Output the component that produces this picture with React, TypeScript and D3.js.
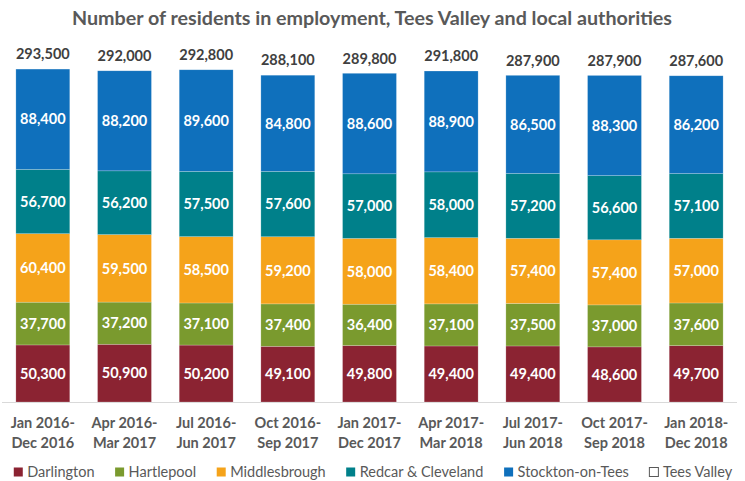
import React from "react";
import * as d3 from "d3";

const categories = [
  "Jan 2016-|Dec 2016",
  "Apr 2016-|Mar 2017",
  "Jul 2016-|Jun 2017",
  "Oct 2016-|Sep 2017",
  "Jan 2017-|Dec 2017",
  "Apr 2017-|Mar 2018",
  "Jul 2017-|Jun 2018",
  "Oct 2017-|Sep 2018",
  "Jan 2018-|Dec 2018",
];
const seriesNames = ["Darlington", "Hartlepool", "Middlesbrough", "Redcar & Cleveland", "Stockton-on-Tees"];
const darlington = [50300, 50900, 50200, 49100, 49800, 49400, 49400, 48600, 49700];
const hartlepool = [37700, 37200, 37100, 37400, 36400, 37100, 37500, 37000, 37600];
const middlesbrough = [60400, 59500, 58500, 59200, 58000, 58400, 57400, 57400, 57000];
const redcar = [56700, 56200, 57500, 57600, 57000, 58000, 57200, 56600, 57100];
const stockton = [88400, 88200, 89600, 84800, 88600, 88900, 86500, 88300, 86200];
const teesValley = [293500, 292000, 292800, 288100, 289800, 291800, 287900, 287900, 287600];
const colors = ["#8B2332", "#7A9A2E", "#F5A31A", "#00808A", "#0F70BC"];

const W = 745;
const H = 481;
const FONT = "Lato, 'Open Sans', sans-serif";

function measure(text: string, font: string) {
  const c = document.createElement("canvas").getContext("2d")!;
  c.font = font;
  return c.measureText(text).width;
}

export default function App() {
  const seriesValues = [darlington, hartlepool, middlesbrough, redcar, stockton];
  const x = d3.scaleBand<string>().domain(categories).range([2, 737]).paddingInner(0.34).paddingOuter(0.17);
  const y = d3.scaleLinear().domain([0, 350000]).range([402, 5]);

  const rows = categories.map((c, i) => {
    const o: any = { cat: c };
    seriesNames.forEach((s, k) => (o[s] = seriesValues[k][i]));
    return o;
  });
  const stack = d3.stack<any>().keys(seriesNames)(rows);

  const legendItems = [...seriesNames, "Tees Valley"];
  const legendFont = `14.5px ${FONT}`;
  const widths = legendItems.map((t) => measure(t, legendFont));
  const marker = 10, mgap = 4, igap = 20;
  const total = widths.reduce((a, w) => a + marker + mgap + w, 0) + igap * (legendItems.length - 1);
  let lx = (13 + 733) / 2 - total / 2;
  const legendPos = widths.map((w) => {
    const p = lx;
    lx += marker + mgap + w + igap;
    return p;
  });

  return (
    <svg width={W} height={H} style={{ position: "absolute", left: 0, top: 0, fontFamily: FONT }}>
      <rect width={W} height={H} fill="#fff" />
      <text x={372} y={25} textAnchor="middle" fontSize={19.7} fontWeight="bold" fill="#595959">
        Number of residents in employment, Tees Valley and local authorities
      </text>
      <line x1={2} x2={737} y1={y(0) + 0.5} y2={y(0) + 0.5} stroke="#d9d9d9" strokeWidth={1} />
      {stack.map((layer, k) => (
        <g key={k}>
          {layer.map((d, i) => (
            <g key={i}>
              <rect
                x={x(categories[i])}
                width={x.bandwidth()}
                y={y(d[1])}
                height={y(d[0]) - y(d[1])}
                fill={colors[k]}
                stroke="#ffffff"
                strokeOpacity={0.35}
                strokeWidth={0.6}
              />
              <text
                x={x(categories[i])! + x.bandwidth() / 2}
                y={(y(d[0]) + y(d[1])) / 2}
                dy="0.36em"
                textAnchor="middle"
                fontSize={14.5}
                fontWeight="bold"
                fill="#ffffff"
              >
                {d3.format(",")(seriesValues[k][i])}
              </text>
            </g>
          ))}
        </g>
      ))}
      {teesValley.map((v, i) => (
        <text
          key={i}
          x={x(categories[i])! + x.bandwidth() / 2}
          y={y(v) - 15}
          dy="0.36em"
          textAnchor="middle"
          fontSize={14.5}
          fontWeight="bold"
          fill="#404040"
        >
          {d3.format(",")(v)}
        </text>
      ))}
      {categories.map((c, i) => {
        const [a, b] = c.split("|");
        const cx = x(c)! + x.bandwidth() / 2;
        return (
          <g key={i}>
            <text x={cx} y={428} textAnchor="middle" fontSize={14.5} fontWeight="bold" fill="#595959">{a}</text>
            <text x={cx} y={448} textAnchor="middle" fontSize={14.5} fontWeight="bold" fill="#595959">{b}</text>
          </g>
        );
      })}
      {legendItems.map((t, k) => (
        <g key={t}>
          <rect
            x={legendPos[k] + 0.5}
            y={467.5}
            width={marker - 1}
            height={marker - 1}
            fill={k < colors.length ? colors[k] : "#ffffff"}
            stroke={k < colors.length ? "none" : "#595959"}
            strokeWidth={1}
          />
          <text x={legendPos[k] + marker + mgap} y={477} fontSize={14.5} fill="#595959">{t}</text>
        </g>
      ))}
    </svg>
  );
}
